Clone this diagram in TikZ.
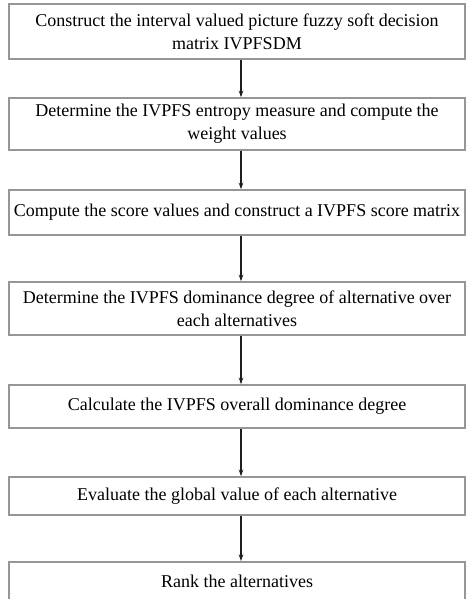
\documentclass[tikz,border=0pt]{standalone}
\usepackage{fontspec}
\setmainfont{Liberation Serif}
\usetikzlibrary{arrows.meta}

\definecolor{boxgray}{RGB}{150,150,150}
\definecolor{arrowblack}{RGB}{30,30,30}

\begin{document}
\begin{tikzpicture}[x=0.75pt, y=-0.75pt,
    font=\fontsize{13.5}{17}\selectfont,
    stepbox/.style={draw=boxgray, line width=1.2pt, minimum width=342pt, align=center, inner sep=2pt},
    flow/.style={draw=arrowblack, line width=0.8pt, -{Stealth[length=5pt, width=3.5pt]}}]
\useasboundingbox (0,0) rectangle (466,599);

% Steps
\node[stepbox, minimum height=41.25pt] (b1) at (237,31.5)
    {Construct the interval valued picture fuzzy soft decision\\matrix IVPFSDM};
\node[stepbox, minimum height=39pt] (b2) at (237,124)
    {Determine the IVPFS entropy measure and compute the\\weight values};
\node[stepbox, minimum height=33.75pt] (b3) at (237,212.5)
    {Compute the score values and construct a IVPFS score matrix};
\node[stepbox, minimum height=39.75pt] (b4) at (237,308.5)
    {Determine the IVPFS dominance degree of alternative over\\each alternatives};
\node[stepbox, minimum height=32.25pt] (b5) at (237,406.5)
    {Calculate the IVPFS overall dominance degree};
\node[stepbox, minimum height=28.5pt] (b6) at (237,496)
    {Evaluate the global value of each alternative};
\node[stepbox, minimum height=30pt, anchor=north] (b7) at (237,561)
    {Rank the alternatives};

% Arrows
\foreach \a/\b in {b1/b2, b2/b3, b3/b4, b4/b5, b5/b6, b6/b7}
    \draw[flow] ([xshift=3pt]\a.south) -- ([xshift=3pt]\b.north);
\end{tikzpicture}
\end{document}
